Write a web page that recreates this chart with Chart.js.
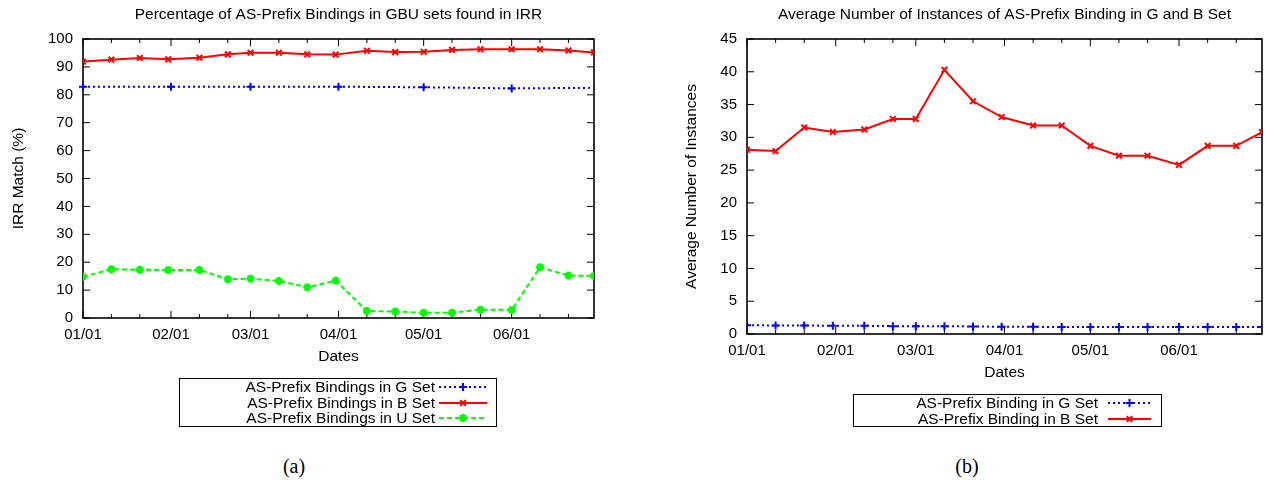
<!DOCTYPE html>
<html>
<head>
<meta charset="utf-8">
<title>AS-Prefix Bindings</title>
<script src="https://cdn.jsdelivr.net/npm/chart.js@4/dist/chart.umd.min.js"></script>
<style>
  body { margin: 0; background: #fff; }
  #wrap { position: relative; width: 1268px; height: 483px; }
  canvas { position: absolute; top: 0; }
  #irrChart { left: 0; }
  #instChart { left: 634px; }
  .cap { position: absolute; top: 455px; font: 20px "Liberation Serif", "Times New Roman", serif; transform: translateX(-50%); }
</style>
</head>
<body>
<div id="wrap">
  <canvas id="irrChart" width="634" height="440"></canvas>
  <canvas id="instChart" width="634" height="440"></canvas>
  <div class="cap" style="left:294px">(a)</div>
  <div class="cap" style="left:967px">(b)</div>
</div>
<script>
// sample dates as days since 01/01
const sampleDays = [0, 10, 20, 30, 41, 51, 59, 69, 79, 89, 100, 110, 120, 130, 140, 151, 161, 171, 180];
const gMonthDays = [0, 31, 59, 90, 120, 151, 181];
const monthTicks = [0, 31, 59, 90, 120, 151];
const monthLabels = ['01/01', '02/01', '03/01', '04/01', '05/01', '06/01'];

// (a) IRR match, %
const irrG = [82.9, 82.9, 82.9, 82.9, 82.7, 82.3, 82.5];
const irrB = [91.9, 92.6, 93.2, 92.7, 93.3, 94.5, 95.1, 95.1, 94.5, 94.4, 95.8, 95.3, 95.4, 96.1, 96.3, 96.3, 96.3, 95.9, 95.2];
const irrU = [14.8, 17.5, 17.3, 17.2, 17.2, 13.9, 14.1, 13.3, 11.0, 13.4, 2.5, 2.3, 1.9, 1.9, 3.0, 2.9, 18.2, 15.2, 15.1];

// (b) average number of instances
const instG = [1.35, 1.3, 1.3, 1.25, 1.25, 1.2, 1.2, 1.2, 1.15, 1.1, 1.1, 1.05, 1.05, 1.05, 1.05, 1.05, 1.05, 1.05, 1.05];
const instB = [28.1, 27.9, 31.5, 30.8, 31.2, 32.8, 32.8, 40.3, 35.5, 33.1, 31.8, 31.8, 28.7, 27.2, 27.2, 25.8, 28.7, 28.7, 30.8];

const XMAX = 180;
const toPts = (days, vals) => vals.map((v, i) => ({ x: days[i], y: v }));

Chart.defaults.font.family = '"Liberation Sans", Arial, Helvetica, sans-serif';
Chart.defaults.color = '#000';

// gnuplot style border with inward ticks (mirrored)
const gnuFrame = {
    id: 'gnuFrame',
    beforeDatasetsDraw(chart) {
        const { ctx, chartArea: a, scales: { x, y } } = chart;
        ctx.save();
        ctx.strokeStyle = '#000';
        ctx.lineWidth = 1;
        ctx.beginPath();
        const vt = (px, len) => {
            ctx.moveTo(px, a.bottom); ctx.lineTo(px, a.bottom - len);
            ctx.moveTo(px, a.top); ctx.lineTo(px, a.top + len);
        };
        x.ticks.forEach(t => vt(x.getPixelForValue(t.value), 7));
        monthTicks.flatMap(d => [d + 10, d + 20]).filter(d => d < XMAX)
            .forEach(d => vt(x.getPixelForValue(d), 4));
        y.ticks.forEach(t => {
            const py = y.getPixelForValue(t.value);
            ctx.moveTo(a.left, py); ctx.lineTo(a.left + 7, py);
            ctx.moveTo(a.right, py); ctx.lineTo(a.right - 7, py);
        });
        ctx.stroke();
        ctx.lineWidth = 1.6;
        ctx.strokeRect(a.left, a.top, a.right - a.left, a.bottom - a.top);
        ctx.restore();
    }
};

// boxed key: text right aligned, sample on the right
const boxLegend = {
    id: 'boxLegend',
    afterDraw(chart, args, o) {
        const ctx = chart.ctx;
        ctx.save();
        ctx.strokeStyle = '#000';
        ctx.lineWidth = 1;
        ctx.strokeRect(o.x + 0.5, o.y + 0.5, o.w, o.h);
        ctx.font = '15.5px "Liberation Sans", Arial, sans-serif';
        ctx.textAlign = 'right';
        ctx.textBaseline = 'middle';
        chart.data.datasets.forEach((ds, i) => {
            const y = o.rows[i];
            ctx.fillStyle = '#000';
            ctx.fillText(ds.label, o.textRight, y + 1);
            ctx.save();
            ctx.strokeStyle = ds.borderColor;
            ctx.lineWidth = ds.borderWidth;
            ctx.setLineDash(ds.borderDash || []);
            ctx.beginPath();
            ctx.moveTo(o.s0, y); ctx.lineTo(o.s1, y);
            ctx.stroke();
            ctx.restore();
            ctx.strokeStyle = ds.borderColor;
            ctx.fillStyle = ds.borderColor;
            ctx.lineWidth = ds.pointBorderWidth;
            Chart.helpers.drawPoint(ctx, {
                pointStyle: ds.pointStyle,
                radius: typeof ds.pointRadius === 'number' ? ds.pointRadius : 4,
                borderWidth: ds.pointBorderWidth, rotation: 0
            }, (o.s0 + o.s1) / 2, y);
        });
        ctx.restore();
    }
};

const styleG = { borderColor: '#0000ff', backgroundColor: '#0000ff', borderWidth: 2, borderDash: [2, 3], pointStyle: 'cross', pointRadius: 4, pointBorderWidth: 2 };
const styleB = { borderColor: '#ff0000', backgroundColor: '#ff0000', borderWidth: 2, pointStyle: 'crossRot', pointRadius: 4, pointBorderWidth: 2 };
const styleU = { borderColor: '#00ff00', backgroundColor: '#00ff00', borderWidth: 2, borderDash: [5, 3], pointStyle: 'star', pointRadius: 4, pointBorderWidth: 2.5 };

function makeOptions(cfg) {
    return {
        responsive: false,
        animation: false,
        layout: { padding: { left: 0, right: cfg.padRight, top: 0, bottom: cfg.padBottom } },
        elements: { line: { tension: 0, fill: false } },
        plugins: {
            legend: { display: false },
            tooltip: { enabled: false },
            title: {
                display: true, text: cfg.title, fullSize: false, color: '#000',
                font: { size: 15.5, weight: 'normal' }, padding: { top: 5.7, bottom: 14.7 }
            },
            boxLegend: cfg.legend
        },
        scales: {
            x: {
                type: 'linear', min: 0, max: XMAX,
                grid: { display: false, drawTicks: false }, border: { display: false },
                afterBuildTicks: s => { s.ticks = monthTicks.map(v => ({ value: v })); },
                afterFit: s => { s.height = 52.3; },
                ticks: {
                    autoSkip: false, maxRotation: 0, padding: 7.5, font: { size: 15 },
                    callback: v => monthLabels[monthTicks.indexOf(v)]
                },
                title: { display: true, text: 'Dates', font: { size: 15.5 }, padding: { top: 0, bottom: 4 } }
            },
            y: {
                min: 0, max: cfg.yMax,
                grid: { display: false, drawTicks: false }, border: { display: false },
                afterFit: s => { s.width = cfg.yWidth; },
                ticks: { stepSize: cfg.yStep, padding: 10, font: { size: 15 } },
                title: { display: true, text: cfg.yTitle, font: { size: 15.5 }, padding: { top: cfg.yTitlePad, bottom: 0 } }
            }
        }
    };
}

new Chart(document.getElementById('irrChart'), {
    type: 'line',
    data: {
        datasets: [
            Object.assign({ label: 'AS-Prefix Bindings in G Set', data: toPts(gMonthDays, irrG),
                clip: { left: 6, top: 6, right: 0, bottom: 6 } }, styleG,
                { pointRadius: ctx => (ctx.raw && ctx.raw.x > XMAX ? 0 : 4) }),
            Object.assign({ label: 'AS-Prefix Bindings in B Set', data: toPts(sampleDays, irrB) }, styleB),
            Object.assign({ label: 'AS-Prefix Bindings in U Set', data: toPts(sampleDays, irrU) }, styleU)
        ]
    },
    options: makeOptions({
        title: 'Percentage of AS-Prefix Bindings in GBU sets found in IRR',
        yTitle: 'IRR Match (%)', yMax: 100, yStep: 10,
        yWidth: 83, yTitlePad: 9.7, padRight: 40, padBottom: 69.7,
        legend: { x: 179, y: 378, w: 317, h: 48, textRight: 435, s0: 439, s1: 487, rows: [387, 403, 418] }
    }),
    plugins: [gnuFrame, boxLegend]
});

new Chart(document.getElementById('instChart'), {
    type: 'line',
    data: {
        datasets: [
            Object.assign({ label: 'AS-Prefix Binding in G Set', data: toPts(sampleDays, instG) }, styleG),
            Object.assign({ label: 'AS-Prefix Binding in B Set', data: toPts(sampleDays, instB) }, styleB)
        ]
    },
    options: makeOptions({
        title: 'Average Number of Instances of AS-Prefix Binding in G and B Set',
        yTitle: 'Average Number of Instances', yMax: 45, yStep: 5,
        yWidth: 113, yTitlePad: 48.7, padRight: 1, padBottom: 53.7,
        legend: { x: 219, y: 394, w: 308, h: 32, textRight: 464, s0: 474, s1: 517, rows: [403, 419] }
    }),
    plugins: [gnuFrame, boxLegend]
});
</script>
</body>
</html>
